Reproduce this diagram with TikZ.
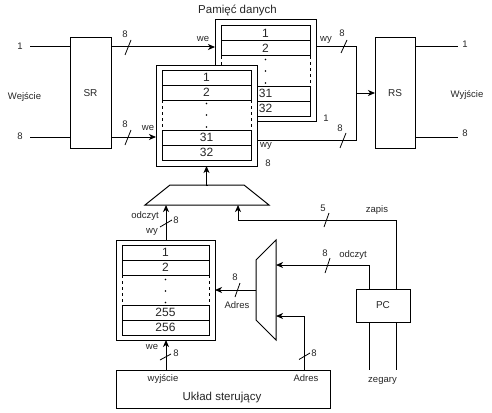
\documentclass[tikz,border=0pt]{standalone}
\usepackage{fontspec}
\setmainfont{Liberation Sans}
\usetikzlibrary{arrows.meta}
\begin{document}
\begin{tikzpicture}[x=1pt,y=-1pt,
  every node/.style={inner sep=0pt, outer sep=0pt, text=black!85},
  box/.style={draw, line width=1pt, fill=white},
  cell/.style={draw, line width=1pt, minimum height=15pt, font=\fontsize{12}{12}\selectfont},
  lbl/.style={font=\fontsize{9.5}{9.5}\selectfont},
  mid/.style={font=\fontsize{10}{10}\selectfont},
  big/.style={font=\fontsize{11.5}{11.5}\selectfont},
  wire/.style={line width=1pt},
  arr/.style={line width=1pt, -{Stealth[length=7pt,width=6pt,inset=2pt]}},
  slash/.style={line width=0.8pt},
  dashedline/.style={line width=1pt, dash pattern=on 3pt off 3pt}]
\useasboundingbox (0,0) rectangle (492,412);

% ---------- title
\node[big] (title) at (237.5,10) {Pamięć danych};

% ---------- back memory (A)
\node[box, minimum width=101pt, minimum height=101pt] (memA) at (265.5,70.5) {};
\node[cell, minimum width=89pt] (a1) at (265.5,33.5) {1};
\node[cell, minimum width=89pt] (a2) at (265.5,48.5) {2};
\node[cell, minimum width=89pt] (a31) at (265.5,93.5) {31};
\node[cell, minimum width=89pt] (a32) at (265.5,108.5) {32};
\draw[dashedline] (a2.south west) -- (a31.north west);
\draw[dashedline] (a2.south east) -- (a31.north east);
\fill (265.5,59.5) circle (0.9) (265.5,71) circle (0.9) (265.5,83) circle (0.9);

% ---------- front memory (B)
\node[box, minimum width=101pt, minimum height=101pt] (memB) at (206.5,115.5) {};
\node[cell, minimum width=89pt] (b1) at (206.5,77.5) {1};
\node[cell, minimum width=89pt] (b2) at (206.5,92.5) {2};
\node[cell, minimum width=89pt] (b31) at (206.5,137.5) {31};
\node[cell, minimum width=89pt] (b32) at (206.5,152.5) {32};
\draw[dashedline] (b2.south west) -- (b31.north west);
\draw[dashedline] (b2.south east) -- (b31.north east);
\fill (206.5,103.5) circle (0.9) (206.5,115) circle (0.9) (206.5,127) circle (0.9);

% ---------- program memory (C)
\node[box, minimum width=99pt, minimum height=100pt] (memC) at (165.5,290) {};
\node[cell, minimum width=87pt] (c1) at (165.5,252.5) {1};
\node[cell, minimum width=87pt] (c2) at (165.5,267.5) {2};
\node[cell, minimum width=87pt] (c255) at (165.5,312.5) {255};
\node[cell, minimum width=87pt] (c256) at (165.5,327.5) {256};
\draw[dashedline] (c2.south west) -- (c255.north west);
\draw[dashedline] (c2.south east) -- (c255.north east);
\fill (165.5,279.5) circle (0.9) (165.5,291) circle (0.9) (165.5,302.5) circle (0.9);

% ---------- blocks
\node[box, minimum width=41pt, minimum height=110pt, mid] (sr) at (90.5,93) {SR};
\node[box, minimum width=40pt, minimum height=110pt, mid] (rs) at (395,93) {RS};
\node[box, minimum width=54pt, minimum height=33pt, mid] (pc) at (383,305.5) {PC};
\node[box, minimum width=214pt, minimum height=38pt] (uk) at (223,389) {};
\node[big] (uktext) at (222,398) {Układ sterujący};

% ---------- multiplexers
\draw[wire] (145,205) -- (170,185) -- (244,185) -- (269,205) -- cycle;
\coordinate (muxTop) at (207,185);
\coordinate (muxInL) at (166,205);
\coordinate (muxInR) at (238,205);
\draw[wire] (256,260) -- (276,240) -- (276,340) -- (256,320) -- cycle;
\coordinate (m2out) at (256,290);
\coordinate (m2inA) at (276,265);
\coordinate (m2inB) at (276,316);

% ---------- inputs
\node[lbl] (in1) at (20,46) {1};
\node[lbl] (in8) at (20,136) {8};
\node[lbl] (wej) at (24.5,96.5) {Wejście};
\coordinate (in1e) at (30,47);
\coordinate (in8e) at (30,137);
\draw[wire] (in1e) -- (sr.west |- in1e);
\draw[wire] (in8e) -- (sr.west |- in8e);

% SR -> memories
\draw[arr] (sr.east |- in1e) -- (memA.west |- in1e);
\draw[slash] (125,55) -- (131,40);
\node[lbl] at (125,34) {8};
\node[lbl] at (203,39) {we};
\draw[arr] (sr.east |- in8e) -- (memB.west |- in8e);
\draw[slash] (125,145) -- (131,130);
\node[lbl] at (125,124) {8};
\node[lbl] at (148,128) {we};

% memories -> RS
\coordinate (jA) at (356,47);
\coordinate (jB) at (356,140);
\coordinate (jM) at (356,93);
\draw[wire] (memA.east |- jA) -- (jA) -- (jB) -- (memB.east |- jB);
\draw[arr] (jM) -- (rs.west |- jM);
\draw[slash] (341,53) -- (347,40);
\node[lbl] at (342,33) {8};
\node[lbl] at (326,40) {wy};
\draw[slash] (340,148) -- (346,133);
\node[lbl] at (340,128) {8};
\node[lbl] at (326,118) {1};
\node[lbl] at (266,146) {wy};
\node[lbl] at (268,163) {8};

% outputs
\coordinate (out1) at (458,47);
\coordinate (out8) at (458,137);
\draw[wire] (rs.east |- out1) -- (out1);
\draw[wire] (rs.east |- out8) -- (out8);
\node[lbl] (o1) at (465,44) {1};
\node[lbl] (o8) at (465,133) {8};
\node[lbl] (wyj) at (467,94.5) {Wyjście};

% top mux -> memB
\draw[arr] (muxTop) -- (memB.south |- muxTop) -- (memB.south);

% memC -> top mux
\draw[arr] (memC.north -| muxInL) -- (muxInL);
\draw[slash] (160,227) -- (172,220);
\node[lbl] at (145,216) {odczyt};
\node[lbl] at (176,220.5) {8};
\node[lbl] at (152,232) {wy};

% PC -> top mux (zapis)
\coordinate (pcZ) at (396,220);
\draw[arr] (pc.north -| pcZ) -- (pcZ) -- (muxInR |- pcZ) -- (muxInR);
\draw[slash] (324,227) -- (329,213);
\node[lbl] at (323,208) {5};
\node[lbl] at (377,210.5) {zapis};

% PC -> mux2 (odczyt)
\coordinate (pcO) at (369,265);
\draw[arr] (pc.north -| pcO) -- (pcO) -- (m2inA);
\draw[slash] (325,273) -- (330,258);
\node[lbl] at (325,253) {8};
\node[lbl] at (353,255.5) {odczyt};

% Uklad -> mux2 (Adres)
\coordinate (ukA) at (304,316);
\draw[arr] (uk.north -| ukA) -- (ukA) -- (m2inB);
\draw[slash] (299,359.5) -- (310,353);
\node[lbl] at (314,353.5) {8};
\node[lbl] at (306,378.5) {Adres};

% mux2 -> memC
\draw[arr] (m2out) -- (memC.east |- m2out);
\draw[slash] (235,297) -- (240,283);
\node[lbl] at (235,277) {8};
\node[lbl] at (237,305.5) {Adres};

% Uklad -> memC
\coordinate (ukW) at (166,370);
\draw[arr] (ukW) -- (memC.south -| ukW);
\draw[slash] (160,360) -- (171,354);
\node[lbl] at (176,353.5) {8};
\node[lbl] at (152,346.5) {we};
\node[lbl] at (163,379) {wyjście};

% clocks
\coordinate (z1) at (369,370);
\coordinate (z2) at (396,370);
\draw[wire] (pc.south -| z1) -- (z1);
\draw[wire] (pc.south -| z2) -- (z2);
\node[lbl] at (382.5,381) {zegary};
\end{tikzpicture}
\end{document}
